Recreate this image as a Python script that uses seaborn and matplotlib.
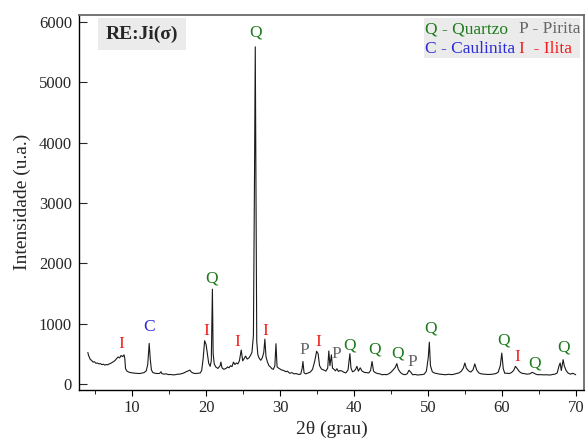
import numpy as np
import pandas as pd
import seaborn as sns
import matplotlib.pyplot as plt
from matplotlib.ticker import MultipleLocator
from matplotlib.patches import Rectangle

# XRD trace
two_theta = [
    4.0, 4.1, 4.2, 4.35, 4.5, 4.7, 4.9, 5.1, 5.3, 5.5, 5.7, 5.9, 6.1, 6.3, 6.5, 6.7, 6.9, 7.1, 7.3,
    7.5, 7.7, 7.9, 8.1, 8.3, 8.5, 8.7, 8.9, 9.0, 9.1, 9.3, 9.5, 9.8, 10.1, 10.4, 10.7, 11.0, 11.3,
    11.6, 11.9, 12.1, 12.3, 12.45, 12.6, 12.8, 13.1, 13.4, 13.7, 13.9, 14.0, 14.3, 14.6, 14.9, 15.2,
    15.5, 15.8, 16.1, 16.4, 16.7, 17.0, 17.3, 17.6, 17.8, 18.0, 18.3, 18.6, 18.9, 19.2, 19.4, 19.6,
    19.8, 20.0, 20.15, 20.35, 20.55, 20.7, 20.85, 20.95, 21.1, 21.3, 21.6, 21.9, 22.0, 22.15, 22.4,
    22.7, 22.9, 23.1, 23.3, 23.5, 23.7, 23.9, 24.1, 24.3, 24.5, 24.75, 24.95, 25.15, 25.35, 25.55,
    25.8, 26.0, 26.2, 26.4, 26.55, 26.65, 26.75, 26.85, 27.0, 27.2, 27.4, 27.6, 27.8, 27.95, 28.1,
    28.3, 28.5, 28.7, 28.9, 29.1, 29.3, 29.45, 29.6, 29.8, 30.0, 30.2, 30.5, 30.8, 31.0, 31.3, 31.6,
    31.9, 32.2, 32.5, 32.8, 33.0, 33.1, 33.25, 33.5, 33.8, 34.1, 34.4, 34.7, 34.95, 35.15, 35.35,
    35.6, 35.9, 36.2, 36.45, 36.6, 36.75, 36.95, 37.1, 37.3, 37.5, 37.7, 37.9, 38.1, 38.3, 38.6,
    38.9, 39.2, 39.45, 39.6, 39.8, 40.0, 40.2, 40.4, 40.6, 40.85, 41.1, 41.4, 41.7, 42.0, 42.25,
    42.45, 42.65, 42.9, 43.2, 43.5, 43.8, 44.1, 44.4, 44.7, 45.0, 45.3, 45.6, 45.8, 46.0, 46.3,
    46.6, 46.9, 47.2, 47.45, 47.7, 47.95, 48.3, 48.6, 48.9, 49.2, 49.5, 49.8, 50.05, 50.2, 50.35,
    50.6, 50.9, 51.2, 51.6, 52.0, 52.4, 52.8, 53.2, 53.6, 53.9, 54.2, 54.5, 54.8, 55.0, 55.2, 55.5,
    55.8, 56.1, 56.35, 56.6, 56.9, 57.2, 57.6, 58.0, 58.4, 58.8, 59.2, 59.5, 59.8, 60.0, 60.2, 60.4,
    60.7, 61.0, 61.3, 61.6, 61.85, 62.1, 62.4, 62.7, 63.0, 63.4, 63.8, 64.1, 64.3, 64.6, 64.9, 65.3,
    65.7, 66.1, 66.5, 66.9, 67.2, 67.5, 67.75, 67.9, 68.05, 68.3, 68.45, 68.7, 69.0, 69.3, 69.6, 70.0,
]
intensity = [
    520, 470, 440, 400, 390, 360, 365, 340, 345, 330, 335, 318, 325, 310, 320, 315, 330, 340, 355,
    370, 390, 420, 445, 430, 470, 450, 480, 420, 250, 210, 195, 185, 180, 175, 172, 170, 178,
    185, 215, 320, 670, 400, 230, 185, 175, 170, 172, 200, 170, 160, 165, 152, 155,
    148, 150, 158, 160, 168, 180, 200, 215, 228, 195, 175, 170, 175, 180, 220, 420,
    715, 650, 520, 340, 290, 380, 1570, 500, 330, 280, 255, 300, 360, 265, 240,
    255, 280, 265, 300, 285, 360, 320, 345, 330, 380, 560, 380, 420, 460, 410,
    430, 470, 520, 800, 3500, 5590, 3000, 700, 480, 420, 390, 430, 520, 740, 450,
    360, 300, 280, 250, 240, 300, 665, 280, 260, 245, 230, 220, 200, 210, 175, 185,
    165, 170, 155, 160, 260, 370, 180, 165, 180, 195, 240, 380, 540, 500, 300,
    245, 230, 210, 260, 545, 300, 480, 260, 240, 215, 250, 205, 220, 215, 195,
    180, 230, 500, 260, 200, 210, 235, 290, 210, 265, 210, 190, 185, 180, 220,
    370, 210, 185, 170, 165, 150, 155, 150, 165, 190, 230, 275, 335, 240, 185,
    160, 150, 165, 225, 190, 150, 155, 145, 150, 152, 160, 210, 430, 690, 300,
    200, 178, 170, 160, 155, 150, 158, 152, 160, 172, 180, 205, 260, 345, 260, 215,
    195, 230, 330, 230, 180, 165, 160, 155, 155, 160, 170, 190, 300, 510, 250, 175,
    175, 170, 185, 220, 290, 250, 200, 175, 170, 160, 165, 190, 180, 160, 150, 152,
    148, 150, 145, 155, 160, 180, 300, 345, 220, 400, 300, 220, 175, 160, 175, 150,
]

# phase labels: letter, 2theta, intensity
peak_letters = ["Q", "Q", "I", "C", "I", "I", "I", "P", "I", "P", "Q", "Q", "Q", "P", "Q", "Q", "I", "Q", "Q"]
peak_x = [26.66, 20.7, 8.56, 12.34, 20.0, 24.2, 28.0, 33.3, 35.2, 37.6, 39.4, 42.75, 45.85, 47.9,
          50.3, 60.2, 62.1, 64.4, 68.4]
peak_y = [5820, 1740, 665, 945, 880, 700, 880, 565, 700, 500, 630, 565, 500, 365, 910, 715, 450, 335, 600]

colors = {"Q": "#1f7a1f", "C": "#2b2bd6", "I": "#f21c1c", "P": "#666666"}

df = pd.DataFrame({"two_theta": two_theta, "intensity": intensity})

sns.set_style("ticks")
plt.rcParams["font.family"] = ["Liberation Serif", "DejaVu Serif"]

fig = plt.figure(figsize=(5.85, 4.38), dpi=100)
ax = fig.add_axes([0.135, 0.11, 0.863, 0.856])

sns.lineplot(data=df, x="two_theta", y="intensity", estimator=None, sort=False,
             color="#1a1a1a", linewidth=0.8, ax=ax)

for letter, x, y in zip(peak_letters, peak_x, peak_y):
    ax.text(x, y, letter, color=colors[letter], fontsize=12.5, ha="center", va="center")

ax.set_xlim(2.8, 71.1)
ax.set_ylim(-100, 6120)
ax.xaxis.set_major_locator(MultipleLocator(10))
ax.xaxis.set_minor_locator(MultipleLocator(5))
ax.yaxis.set_major_locator(MultipleLocator(1000))
ax.tick_params(axis="x", which="both", direction="out", labelsize=12, color="black")
ax.tick_params(axis="x", which="major", length=4)
ax.tick_params(axis="x", which="minor", length=3)
ax.tick_params(axis="y", direction="in", length=6, labelsize=12, pad=5)

for side in ["left", "bottom"]:
    ax.spines[side].set_color("black")
    ax.spines[side].set_linewidth(1.0)
for side in ["top", "right"]:
    ax.spines[side].set_visible(True)
    ax.spines[side].set_color("#6a6a6a")
    ax.spines[side].set_linewidth(1.3)

ax.set_xlabel("2θ (grau)", fontsize=14, labelpad=3)
ax.set_ylabel("Intensidade (u.a.)", fontsize=14, labelpad=6)

# sample tag box
ax.text(0.125, 0.949, "RE:Ji(σ)", transform=ax.transAxes, fontsize=14, fontweight="bold",
        ha="center", va="center",
        bbox=dict(facecolor="#ebebeb", edgecolor="none", boxstyle="square,pad=0.4"))

# phase key box
ax.add_patch(Rectangle((0.683, 0.885), 0.31, 0.108, transform=ax.transAxes,
                       facecolor="#ebebeb", edgecolor="none", zorder=1))
ax.text(0.685, 0.962, "Q - Quartzo", transform=ax.transAxes, color=colors["Q"], fontsize=12.5,
        ha="left", va="center")
ax.text(0.872, 0.962, "P - Pirita", transform=ax.transAxes, color=colors["P"], fontsize=12.5,
        ha="left", va="center")
ax.text(0.685, 0.908, "C - Caulinita", transform=ax.transAxes, color=colors["C"], fontsize=12.5,
        ha="left", va="center")
ax.text(0.872, 0.908, "I  - Ilita", transform=ax.transAxes, color=colors["I"], fontsize=12.5,
        ha="left", va="center")

fig.savefig("out.png", dpi=100)
